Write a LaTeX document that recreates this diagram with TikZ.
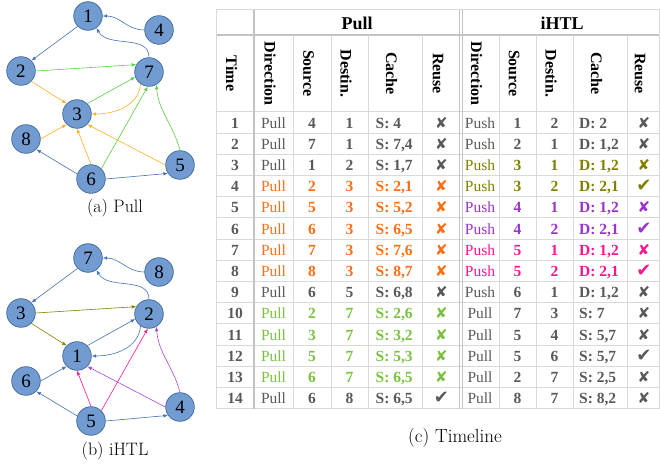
\documentclass[tikz,border=0pt]{standalone}
\usepackage{fontspec}
\newfontfamily\tnr{Liberation Serif}
\newfontfamily\symf{DejaVu Sans}
\usetikzlibrary{arrows.meta}

\definecolor{nodefill}{RGB}{114,155,210}
\definecolor{nodeedge}{RGB}{70,112,160}
\definecolor{eblue}{RGB}{68,114,178}
\definecolor{eorange}{RGB}{255,175,40}
\definecolor{egreen}{RGB}{90,205,70}
\definecolor{eolive}{RGB}{128,128,0}
\definecolor{epink}{RGB}{255,20,147}
\definecolor{epurple}{RGB}{170,70,220}
\definecolor{tgray}{RGB}{89,89,89}
\definecolor{torange}{RGB}{255,110,20}
\definecolor{tgreen}{RGB}{122,193,66}
\definecolor{tolive}{RGB}{128,128,0}
\definecolor{tpurple}{RGB}{153,51,204}
\definecolor{tpink}{RGB}{255,20,147}
\definecolor{gridc}{RGB}{217,217,217}
\definecolor{rulec}{RGB}{195,195,195}

\newcommand\markX{{\symf ✘}}
\newcommand\markC{{\symf\fontsize{18}{18}\selectfont ✔}}

\tikzset{
  gnode/.style={circle, draw=nodeedge, fill=nodefill, line width=0.8pt,
    minimum size=28.6pt, inner sep=0pt, font=\tnr\fontsize{19}{19}\selectfont},
  link/.style={-{Latex[length=4.5pt,width=3.6pt]}, line width=0.6pt},
  capt/.style={font=\fontsize{18}{18}\selectfont, inner sep=0pt},
  cell/.style={anchor=base, inner sep=0pt, font=\tnr\fontsize{15.5}{16}\selectfont},
  bcell/.style={cell, font=\tnr\bfseries\fontsize{15.5}{16}\selectfont},
  mcell/.style={anchor=base, inner sep=0pt, font=\fontsize{15}{15}\selectfont},
  vhead/.style={rotate=-90, anchor=center, inner sep=0pt,
    font=\tnr\bfseries\fontsize{16}{16}\selectfont},
  ghead/.style={anchor=base, inner sep=0pt, font=\tnr\bfseries\fontsize{18}{18}\selectfont},
  gridline/.style={draw=gridc, line width=1pt}
}

\begin{document}
\begin{tikzpicture}[x=1pt,y=1pt]
\useasboundingbox (0,0) rectangle (660,465);

% ---------- graph (a): Pull ----------
\node[gnode] (a1) at (88,449) {1};
\node[gnode] (a4) at (159,435) {4};
\node[gnode] (a2) at (21,394) {2};
\node[gnode] (a7) at (149,393) {7};
\node[gnode] (a3) at (77,351) {3};
\node[gnode] (a8) at (26,326) {8};
\node[gnode] (a6) at (91,286) {6};
\node[gnode] (a5) at (180,300) {5};

\draw[link,eblue] (a4.west) to[out=180,in=0] (a1.east);
\draw[link,eblue] (a7.north) to[out=90,in=-60] (a1.-55);
\draw[link,eblue] (a1.-135) -- (a2.45);
\draw[link,egreen] (a2.east) -- (a7.150);
\draw[link,eorange] (a2.-45) -- (a3.135);
\draw[link,egreen] (a3.45) -- (a7.-160);
\draw[link,eorange] (a7.-125) to[out=-95,in=0] (a3.east);
\draw[link,eorange] (a8.east) -- (a3.-135);
\draw[link,eorange] (a6.north) -- (a3.south);
\draw[link,egreen] (a6.45) -- (a7.-95);
\draw[link,eorange] (a5.west) -- (a3.-45);
\draw[link,egreen] (a5.north) to[out=105,in=-85] (a7.-60);
\draw[link,eblue] (a6.160) -- (a8.-45);
\draw[link,eblue] (a6.east) -- (a5.-145);

\node[capt] (capa) at (115,257) {(a) Pull};

% ---------- graph (b): iHTL ----------
\node[gnode] (b7) at (88,207) {7};
\node[gnode] (b8) at (159,193) {8};
\node[gnode] (b3) at (21,152) {3};
\node[gnode] (b2) at (149,151) {2};
\node[gnode] (b1) at (77,109) {1};
\node[gnode] (b6) at (26,84) {6};
\node[gnode] (b5) at (91,44) {5};
\node[gnode] (b4) at (180,58) {4};

\draw[link,eblue] (b8.west) to[out=180,in=0] (b7.east);
\draw[link,eblue] (b2.north) to[out=90,in=-60] (b7.-55);
\draw[link,eblue] (b7.-135) -- (b3.45);
\draw[link,eolive] (b3.east) -- (b2.150);
\draw[link,eolive] (b3.-45) -- (b1.135);
\draw[link,eblue] (b1.45) -- (b2.-160);
\draw[link,eblue] (b2.-125) to[out=-95,in=0] (b1.east);
\draw[link,eblue] (b6.east) -- (b1.-135);
\draw[link,epink] (b5.north) -- (b1.south);
\draw[link,epink] (b5.45) -- (b2.-95);
\draw[link,epurple] (b4.west) -- (b1.-45);
\draw[link,epurple] (b4.north) to[out=105,in=-85] (b2.-60);
\draw[link,eblue] (b5.160) -- (b6.-45);
\draw[link,eblue] (b5.east) -- (b4.-145);

\node[capt] (capb) at (115,14) {(b) iHTL};

% ---------- timeline table ----------
% horizontal rules
\draw[gridline] (216,455) -- (660,455);
\foreach \k in {0,...,14}
  \draw[gridline] (216,353-21.2*\k) -- (660,353-21.2*\k);
\draw[draw=rulec, line width=2.6pt] (216,430) -- (660,430);
% vertical rules
\draw[gridline] (216,455) -- (216,56.2);
\draw[gridline] (659.5,455) -- (659.5,56.2);
\foreach \x in {293,331,368,422,499,536,573,627}
  \draw[gridline] (\x,430) -- (\x,56.2);
\draw[draw=rulec, line width=2.6pt] (254,455) -- (254,56.2);
\draw[draw=rulec, line width=0.9pt] (459.8,455) -- (459.8,56.2);
\draw[draw=rulec, line width=0.9pt] (462.8,455) -- (462.8,56.2);

% headers
\node[ghead] (hpull) at (357,435) {Pull};
\node[ghead] (hihtl) at (562,435) {iHTL};
\foreach \x/\t/\n in {235/Time/htime,
    273.5/Direction/hpdir, 312/Source/hpsrc, 349.5/Destin./hpdst,
    395/Cache/hpcache, 441.5/Reuse/hpreuse,
    480/Direction/hidir, 517.5/Source/hisrc, 554.5/Destin./hidst,
    600/Cache/hicache, 643.5/Reuse/hireuse}
  \node[vhead] (\n) at (\x-3.5,391.5) {\t};

% Pull half
\foreach \r/\rc/\rs/\rd/\rk/\rm in {
    1/tgray/4/1/{4}/\markX, 2/tgray/7/1/{7,4}/\markX, 3/tgray/1/2/{1,7}/\markX,
    4/torange/2/3/{2,1}/\markX, 5/torange/5/3/{5,2}/\markX,
    6/torange/6/3/{6,5}/\markX, 7/torange/7/3/{7,6}/\markX,
    8/torange/8/3/{8,7}/\markX, 9/tgray/6/5/{6,8}/\markX,
    10/tgreen/2/7/{2,6}/\markX, 11/tgreen/3/7/{3,2}/\markX,
    12/tgreen/5/7/{5,3}/\markX, 13/tgreen/6/7/{6,5}/\markX,
    14/tgray/6/8/{6,5}/\markC}
{
  \pgfmathsetmacro\yb{358.1-21.2*\r}
  \node[bcell,text=tgray] (t\r) at (235,\yb) {\r};
  \node[cell,text=\rc] (pd\r) at (273.5,\yb) {Pull};
  \node[bcell,text=\rc] (ps\r) at (312,\yb) {\rs};
  \node[bcell,text=\rc] (pt\r) at (349.5,\yb) {\rd};
  \node[bcell,text=\rc,anchor=base west] (pk\r) at (375.5,\yb) {S: \rk};
  \node[mcell,text=\rc] (pr\r) at (441.5,\yb) {\rm};
}

% iHTL half
\foreach \r/\rc/\rdir/\rs/\rd/\rk/\rm in {
    1/tgray/Push/1/2/{D: 2}/\markX,
    2/tgray/Push/2/1/{D: 1,2}/\markX,
    3/tolive/Push/3/1/{D: 1,2}/\markX,
    4/tolive/Push/3/2/{D: 2,1}/\markC,
    5/tpurple/Push/4/1/{D: 1,2}/\markX,
    6/tpurple/Push/4/2/{D: 2,1}/\markC,
    7/tpink/Push/5/1/{D: 1,2}/\markX,
    8/tpink/Push/5/2/{D: 2,1}/\markC,
    9/tgray/Push/6/1/{D: 1,2}/\markX,
    10/tgray/Pull/7/3/{S: 7}/\markX,
    11/tgray/Pull/5/4/{S: 5,7}/\markX,
    12/tgray/Pull/5/6/{S: 5,7}/\markC,
    13/tgray/Pull/2/7/{S: 2,5}/\markX,
    14/tgray/Pull/8/7/{S: 8,2}/\markX}
{
  \pgfmathsetmacro\yb{358.1-21.2*\r}
  \node[cell,text=\rc] (id\r) at (480,\yb) {\rdir};
  \node[bcell,text=\rc] (is\r) at (517.5,\yb) {\rs};
  \node[bcell,text=\rc] (it\r) at (554.5,\yb) {\rd};
  \node[bcell,text=\rc,anchor=base west] (ik\r) at (579,\yb) {\rk};
  \node[mcell,text=\rc] (ir\r) at (644,\yb) {\rm};
}

\node[capt, font=\fontsize{19}{19}\selectfont] (capc) at (455,27.5) {(c) Timeline};
\end{tikzpicture}
\end{document}
